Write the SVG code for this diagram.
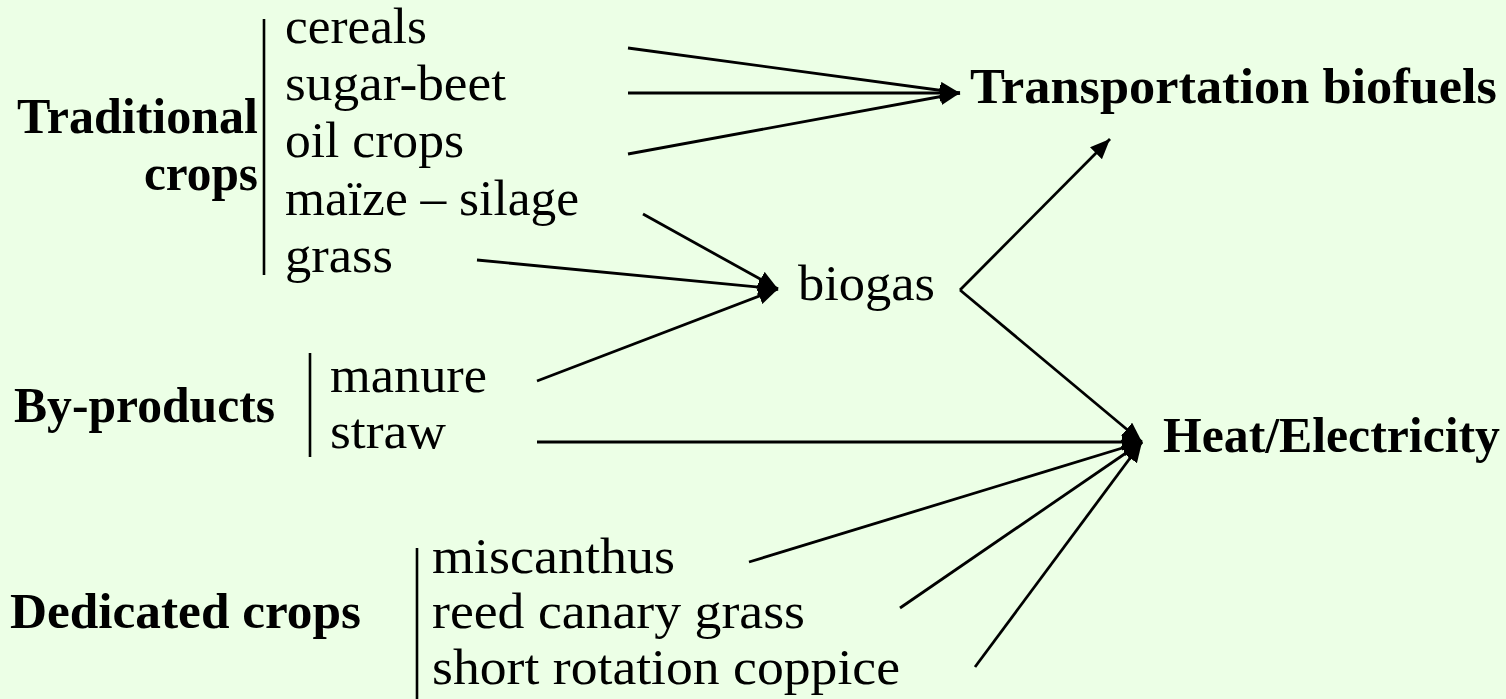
<svg xmlns="http://www.w3.org/2000/svg" width="1506" height="699" viewBox="0 0 1506 699">
<style>
text{font-family:"Liberation Serif","Times New Roman",serif;font-size:50px;fill:#000}
.b{font-weight:bold}
.bar{stroke:#000;stroke-width:2.6;fill:none}
.c line{stroke:#000;stroke-width:2.8;fill:none;marker-end:url(#ah)}
</style>
<defs>
<marker id="ah" markerUnits="userSpaceOnUse" markerWidth="21" markerHeight="18" refX="20" refY="8.5" orient="auto" viewBox="0 0 21 18">
<path d="M0,0 L20,8.5 L0,17 z" fill="#000"/>
</marker>
</defs>
<rect width="1506" height="699" fill="#ECFFE6"/>
<g id="traditional">
<text class="b" x="17" y="133" textLength="241" lengthAdjust="spacingAndGlyphs">Traditional</text>
<text class="b" x="144" y="190" textLength="114" lengthAdjust="spacingAndGlyphs">crops</text>
<line class="bar" x1="264" y1="19" x2="264" y2="275"/>
<text x="285" y="43" textLength="142" lengthAdjust="spacingAndGlyphs">cereals</text>
<text x="285" y="100" textLength="221" lengthAdjust="spacingAndGlyphs">sugar-beet</text>
<text x="285" y="157" textLength="179" lengthAdjust="spacingAndGlyphs">oil crops</text>
<text x="285" y="215" textLength="294" lengthAdjust="spacingAndGlyphs">maïze – silage</text>
<text x="285" y="272" textLength="108" lengthAdjust="spacingAndGlyphs">grass</text>
</g>
<g id="byproducts">
<text class="b" x="14" y="422" textLength="261" lengthAdjust="spacingAndGlyphs">By-products</text>
<line class="bar" x1="310" y1="353" x2="310" y2="457"/>
<text x="330" y="392" textLength="157" lengthAdjust="spacingAndGlyphs">manure</text>
<text x="330" y="448" textLength="116" lengthAdjust="spacingAndGlyphs">straw</text>
</g>
<g id="dedicated">
<text class="b" x="10" y="628" textLength="351" lengthAdjust="spacingAndGlyphs">Dedicated crops</text>
<line class="bar" x1="417" y1="548" x2="417" y2="699"/>
<text x="432" y="573" textLength="243" lengthAdjust="spacingAndGlyphs">miscanthus</text>
<text x="432" y="628" textLength="373" lengthAdjust="spacingAndGlyphs">reed canary grass</text>
<text x="432" y="684" textLength="468" lengthAdjust="spacingAndGlyphs">short rotation coppice</text>
</g>
<g id="biogas">
<text x="798" y="300" textLength="137" lengthAdjust="spacingAndGlyphs">biogas</text>
</g>
<g id="transport">
<text class="b" x="970" y="103" textLength="527" lengthAdjust="spacingAndGlyphs">Transportation biofuels</text>
</g>
<g id="heat">
<text class="b" x="1163" y="452" textLength="337" lengthAdjust="spacingAndGlyphs">Heat/Electricity</text>
</g>
<g id="connectors" class="c">
<line x1="628" y1="48" x2="960" y2="93"/>
<line x1="628" y1="93" x2="960" y2="93"/>
<line x1="628" y1="154" x2="960" y2="93"/>
<line x1="643" y1="214" x2="778" y2="289"/>
<line x1="477" y1="260" x2="778" y2="289"/>
<line x1="537" y1="381" x2="778" y2="289"/>
<line x1="960" y1="290" x2="1110" y2="139"/>
<line x1="960" y1="290" x2="1142" y2="442"/>
<line x1="537" y1="442" x2="1142" y2="442"/>
<line x1="749" y1="562" x2="1142" y2="442"/>
<line x1="900" y1="608" x2="1142" y2="442"/>
<line x1="975" y1="667" x2="1142" y2="442"/>
</g>
</svg>
